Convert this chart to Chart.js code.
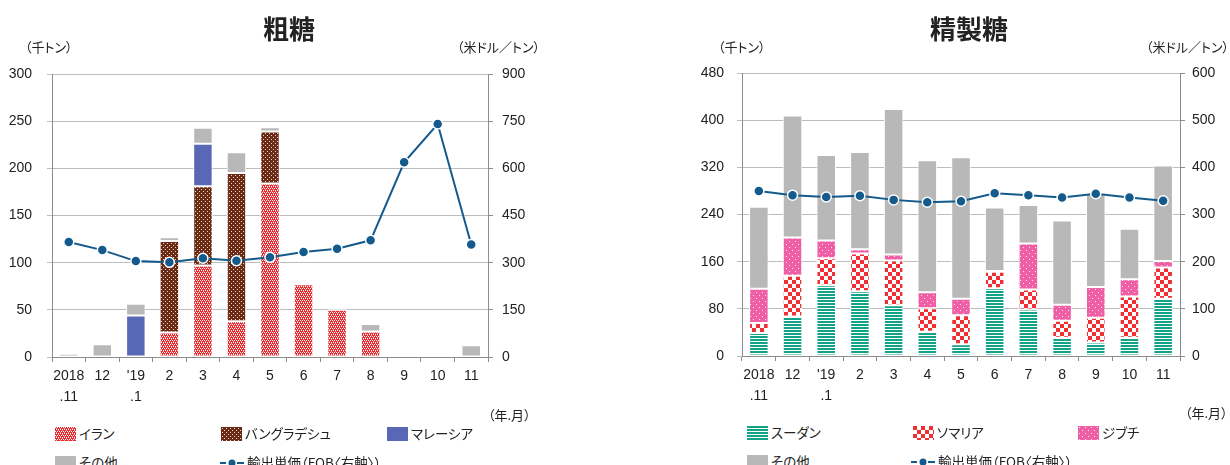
<!DOCTYPE html>
<html lang="ja">
<head>
<meta charset="utf-8">
<script src="https://cdn.jsdelivr.net/npm/chart.js@4.4.1/dist/chart.umd.min.js"></script>
<style>
  body { margin: 0; background: #fff; width: 1230px; height: 465px; overflow: hidden; position: relative;
         font-family: "Noto Sans CJK JP", sans-serif; color: #222; }
  .cv { position: absolute; top: 0; }
  .t { position: absolute; white-space: nowrap; font-feature-settings: "palt"; line-height: 1; }
  .title { font-size: 26px; font-weight: bold; }
  .unit { font-size: 13px; }
  .lg { font-size: 13.5px; }
  .sw { position: absolute; }
</style>
</head>
<body>
<canvas id="rawChart" class="cv" style="left:0" width="560" height="410"></canvas>
<canvas id="refChart" class="cv" style="left:680px" width="550" height="410"></canvas>

<div class="t title" style="left:263px;top:15px">粗糖</div>
<div class="t unit" style="left:25px;top:40px">（千トン）</div>
<div class="t unit" style="left:457px;top:40px">（米ドル／トン）</div>
<div class="t unit" style="left:488px;top:408px">（年.月）</div>

<div class="t title" style="left:930px;top:15px">精製糖</div>
<div class="t unit" style="left:718px;top:40px">（千トン）</div>
<div class="t unit" style="left:1146px;top:40px">（米ドル／トン）</div>
<div class="t unit" style="left:1185px;top:406px">（年.月）</div>

<div id="legends"></div>

<script>
// 月（年.月）
const months = [['2018', '.11'], ['12'], ["'19", '.1'], ['2'], ['3'], ['4'], ['5'], ['6'], ['7'], ['8'], ['9'], ['10'], ['11']];

// 粗糖 (千トン)
const rawIran       = [0, 0, 0, 26, 97, 38, 184, 77, 50, 27, 0, 0, 0];
const rawBangladesh = [0, 0, 0, 97, 84, 157, 55, 0, 0, 0, 0, 0, 0];
const rawMalaysia   = [0, 0, 44, 0, 45, 0, 0, 0, 0, 0, 0, 0, 0];
const rawOther      = [3.5, 13.5, 12.5, 4, 17, 22, 4.5, 1, 2, 8, 0, 0, 12.5];
// 輸出単価 (米ドル/トン)
const rawPrice      = [366, 340, 305, 301, 314, 306, 317, 334, 344, 371, 619, 741, 358];

// 精製糖 (千トン)
const refSudan    = [39, 67, 120, 110, 86, 41, 20, 115, 79, 31, 23, 31, 97];
const refSomalia  = [17, 69, 46, 64, 76, 40, 49, 28, 34, 29, 42, 70, 53];
const refDjibouti = [58, 65, 30, 7, 10, 27, 28, 1, 78, 27, 52, 29, 11];
const refOther    = [139, 207, 145, 165, 247, 224, 240, 108, 65, 143, 159, 86, 162];
const refPrice    = [350, 341, 337, 340, 331, 326, 328, 345, 341, 336, 344, 336, 329];

const LINE = '#145a8c';
const GREY = '#b8b8b8';

// fill patterns
function makePattern(kind) {
    const c = document.createElement('canvas');
    const g = c.getContext('2d');
    if (kind === 'iran') {
        c.width = 4; c.height = 4;
        g.fillStyle = '#ea2a2e'; g.fillRect(0, 0, 4, 4);
        g.fillStyle = '#ffffff';
        g.fillRect(0, 0, 1, 1); g.fillRect(2, 0, 1, 1); g.fillRect(1, 2, 1, 1); g.fillRect(3, 2, 1, 1);
        g.fillStyle = '#f6a0a0'; g.fillRect(1, 1, 1, 1); g.fillRect(3, 3, 1, 1);
    } else if (kind === 'bangladesh') {
        c.width = 4; c.height = 4;
        g.fillStyle = '#6a2a14'; g.fillRect(0, 0, 4, 4);
        g.fillStyle = '#e8d8d0'; g.fillRect(1, 1, 1, 1); g.fillRect(3, 3, 1, 1);
    } else if (kind === 'sudan') {
        c.width = 4; c.height = 3;
        g.fillStyle = '#ffffff'; g.fillRect(0, 0, 4, 3);
        g.fillStyle = '#12a287'; g.fillRect(0, 0, 4, 2);
    } else if (kind === 'somalia') {
        c.width = 8; c.height = 8;
        g.fillStyle = '#ffffff'; g.fillRect(0, 0, 8, 8);
        g.fillStyle = '#ee2f33'; g.fillRect(0, 0, 4, 4); g.fillRect(4, 4, 4, 4);
    } else if (kind === 'djibouti') {
        c.width = 6; c.height = 6;
        g.fillStyle = '#ef5fa6'; g.fillRect(0, 0, 6, 6);
        g.fillStyle = '#fde3ef'; g.fillRect(1, 1, 1, 1); g.fillRect(4, 4, 1, 1);
    }
    return g.createPattern(c, 'repeat');
}

function barSet(label, data, fill) {
    return {
        type: 'bar', label: label, data: data, backgroundColor: fill,
        borderColor: '#ffffff', borderWidth: 1, borderSkipped: false,
        barPercentage: 0.58, categoryPercentage: 1, yAxisID: 'y', order: 1
    };
}

function lineSet(data) {
    return {
        type: 'line', label: '輸出単価（FOB〈右軸〉）', data: data, yAxisID: 'y2', order: 0,
        borderColor: LINE, borderWidth: 2, backgroundColor: LINE,
        pointRadius: 5, pointBorderColor: '#ffffff', pointBorderWidth: 1.5, tension: 0
    };
}

const tickFont = { family: '"Liberation Sans", Arial, sans-serif', size: 14 };

function makeOptions(o) {
    return {
        responsive: false,
        animation: false,
        devicePixelRatio: 1,
        layout: { padding: { top: o.top, left: 0, right: 0, bottom: 0 } },
        plugins: { legend: { display: false }, title: { display: false }, tooltip: { enabled: false } },
        scales: {
            x: {
                stacked: true,
                grid: { offset: true, drawOnChartArea: false, tickLength: 5, color: '#8c8c8c' },
                border: { color: '#8c8c8c' },
                ticks: { font: Object.assign({ lineHeight: 1.55 }, tickFont), color: '#222', padding: 3, maxRotation: 0, autoSkip: false },
                afterFit: function (s) { s.height = o.xh; }
            },
            y: {
                stacked: true, min: 0, max: o.max, position: 'left',
                ticks: { stepSize: o.step, font: tickFont, color: '#222', padding: o.lpad },
                grid: { color: '#bdbdbd', tickLength: 5 },
                border: { color: '#8c8c8c' },
                afterFit: function (s) { s.width = o.lw; }
            },
            y2: {
                min: 0, max: o.max2, position: 'right',
                ticks: { stepSize: o.step2, font: tickFont, color: '#222', padding: o.rpad },
                grid: { drawOnChartArea: false, tickLength: 5, color: '#8c8c8c' },
                border: { color: '#8c8c8c' },
                afterFit: function (s) { s.width = o.rw; }
            }
        }
    };
}

// 粗糖
new Chart(document.getElementById('rawChart').getContext('2d'), {
    data: {
        labels: months,
        datasets: [
            barSet('イラン', rawIran, makePattern('iran')),
            barSet('バングラデシュ', rawBangladesh, makePattern('bangladesh')),
            barSet('マレーシア', rawMalaysia, '#5868b6'),
            barSet('その他', rawOther, GREY),
            lineSet(rawPrice)
        ]
    },
    options: makeOptions({ top: 74, xh: 53, max: 300, step: 50, max2: 900, step2: 150, lw: 52, rw: 72, lpad: 15, rpad: 9 })
});

// 精製糖
new Chart(document.getElementById('refChart').getContext('2d'), {
    data: {
        labels: months,
        datasets: [
            barSet('スーダン', refSudan, makePattern('sudan')),
            barSet('ソマリア', refSomalia, makePattern('somalia')),
            barSet('ジブチ', refDjibouti, makePattern('djibouti')),
            barSet('その他', refOther, GREY),
            lineSet(refPrice)
        ]
    },
    options: makeOptions({ top: 73, xh: 54, max: 480, step: 80, max2: 600, step2: 100, lw: 62, rw: 50, lpad: 13, rpad: 7 })
});

// legends (HTML)
const legendItems = [
    { x: 55, y: 434, kind: 'iran', text: 'イラン' },
    { x: 221, y: 434, kind: 'bangladesh', text: 'バングラデシュ' },
    { x: 387, y: 434, kind: '#5868b6', text: 'マレーシア' },
    { x: 55, y: 463, kind: GREY, text: 'その他' },
    { x: 220, y: 463, kind: 'line', text: '輸出単価（FOB〈右軸〉）' },
    { x: 747, y: 433, kind: 'sudan', text: 'スーダン' },
    { x: 913, y: 433, kind: 'somalia', text: 'ソマリア' },
    { x: 1078, y: 433, kind: 'djibouti', text: 'ジブチ' },
    { x: 747, y: 462, kind: GREY, text: 'その他' },
    { x: 911, y: 462, kind: 'line', text: '輸出単価（FOB〈右軸〉）' }
];
const host = document.getElementById('legends');
legendItems.forEach(function (it) {
    const c = document.createElement('canvas');
    c.className = 'sw';
    c.width = it.kind === 'line' ? 24 : 21;
    c.height = 14;
    c.style.left = it.x + 'px';
    c.style.top = (it.y - 7) + 'px';
    const g = c.getContext('2d');
    if (it.kind === 'line') {
        g.strokeStyle = LINE; g.lineWidth = 2;
        g.beginPath(); g.moveTo(0, 7); g.lineTo(6, 7); g.moveTo(17, 7); g.lineTo(24, 7); g.stroke();
        g.fillStyle = LINE; g.beginPath(); g.arc(12, 7, 3.5, 0, Math.PI * 2); g.fill();
    } else {
        g.fillStyle = it.kind.charAt(0) === '#' ? it.kind : makePattern(it.kind);
        g.fillRect(0, 0, 21, 14);
    }
    host.appendChild(c);
    const t = document.createElement('div');
    t.className = 't lg';
    t.textContent = it.text;
    t.style.left = (it.x + c.width + 3) + 'px';
    t.style.top = (it.y - 7) + 'px';
    host.appendChild(t);
});
</script>
</body>
</html>
